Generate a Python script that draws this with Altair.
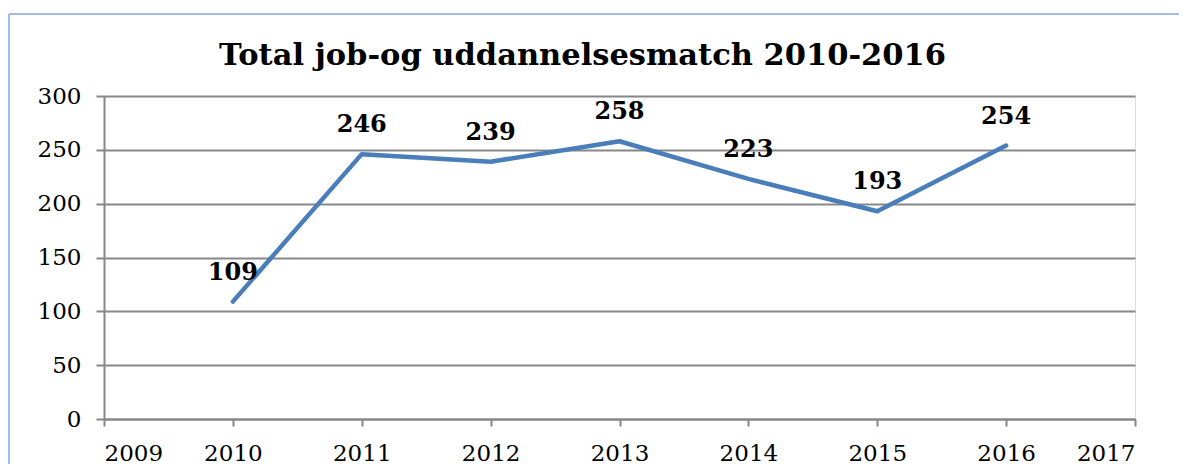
import altair as alt
import pandas as pd

years = [2010, 2011, 2012, 2013, 2014, 2015, 2016]
values = [109, 246, 239, 258, 223, 193, 254]
x_ticks = [2009, 2010, 2011, 2012, 2013, 2014, 2015, 2016, 2017]
y_ticks = [0, 50, 100, 150, 200, 250, 300]
title_text = "Total job-og uddannelsesmatch 2010-2016"

df = pd.DataFrame({"year": years, "value": values})
title_df = pd.DataFrame({"t": [title_text]})

W, H = 1031, 323
FONT = "DejaVu Serif"
GRID = "#878787"
LINE = "#4a7ebb"

x_enc = alt.X("year:Q", scale=alt.Scale(domain=[2009, 2017], nice=False),
              axis=alt.Axis(values=x_ticks, format="d", title=None, grid=False,
                            domainColor=GRID, domainWidth=2, tickColor=GRID,
                            tickWidth=2, tickSize=7, labelPadding=16,
                            labelFont=FONT, labelFontSize=23, labelColor="#000000"))
y_enc = alt.Y("value:Q", scale=alt.Scale(domain=[0, 300], nice=False),
              axis=alt.Axis(values=y_ticks, title=None, grid=True, gridColor=GRID,
                            gridWidth=2, domainColor=GRID, domainWidth=2,
                            tickColor=GRID, tickWidth=2, tickSize=8, labelPadding=15,
                            labelFont=FONT, labelFontSize=23, labelColor="#000000"))

line = alt.Chart(df).mark_line(color=LINE, strokeWidth=4.5, strokeCap="round",
                               strokeJoin="round").encode(x=x_enc, y=y_enc)

labels = alt.Chart(df).mark_text(font=FONT, fontSize=24, fontWeight="bold",
                                 color="#000000", dy=-29, baseline="middle").encode(
    x=alt.X("year:Q"), y=alt.Y("value:Q"), text=alt.Text("value:Q"))

frame_v = alt.Chart(df).mark_rule(color="#a3bce6", strokeWidth=2, clip=False).encode(
    x=alt.value(-95), y=alt.value(-82), y2=alt.value(H + 50))
frame_h = alt.Chart(df).mark_rule(color="#a3bce6", strokeWidth=2, clip=False).encode(
    x=alt.value(-95), x2=alt.value(W + 50), y=alt.value(-82))

title = alt.Chart(title_df).mark_text(font=FONT, fontSize=30.5, fontWeight="bold",
                                      color="#000000", align="center",
                                      baseline="alphabetic", clip=False).encode(
    x=alt.value(W / 2 - 37), y=alt.value(-31), text="t:N")

chart = alt.layer(frame_v, frame_h, line, labels, title).properties(
    width=W, height=H,
    autosize=alt.AutoSizeParams(type="none"),
    padding={"left": 96, "top": 88, "right": 44, "bottom": 45},
).configure_view(stroke=None).configure(background="white")

chart.save("out.html", embed_options={"renderer": "svg", "actions": False})
